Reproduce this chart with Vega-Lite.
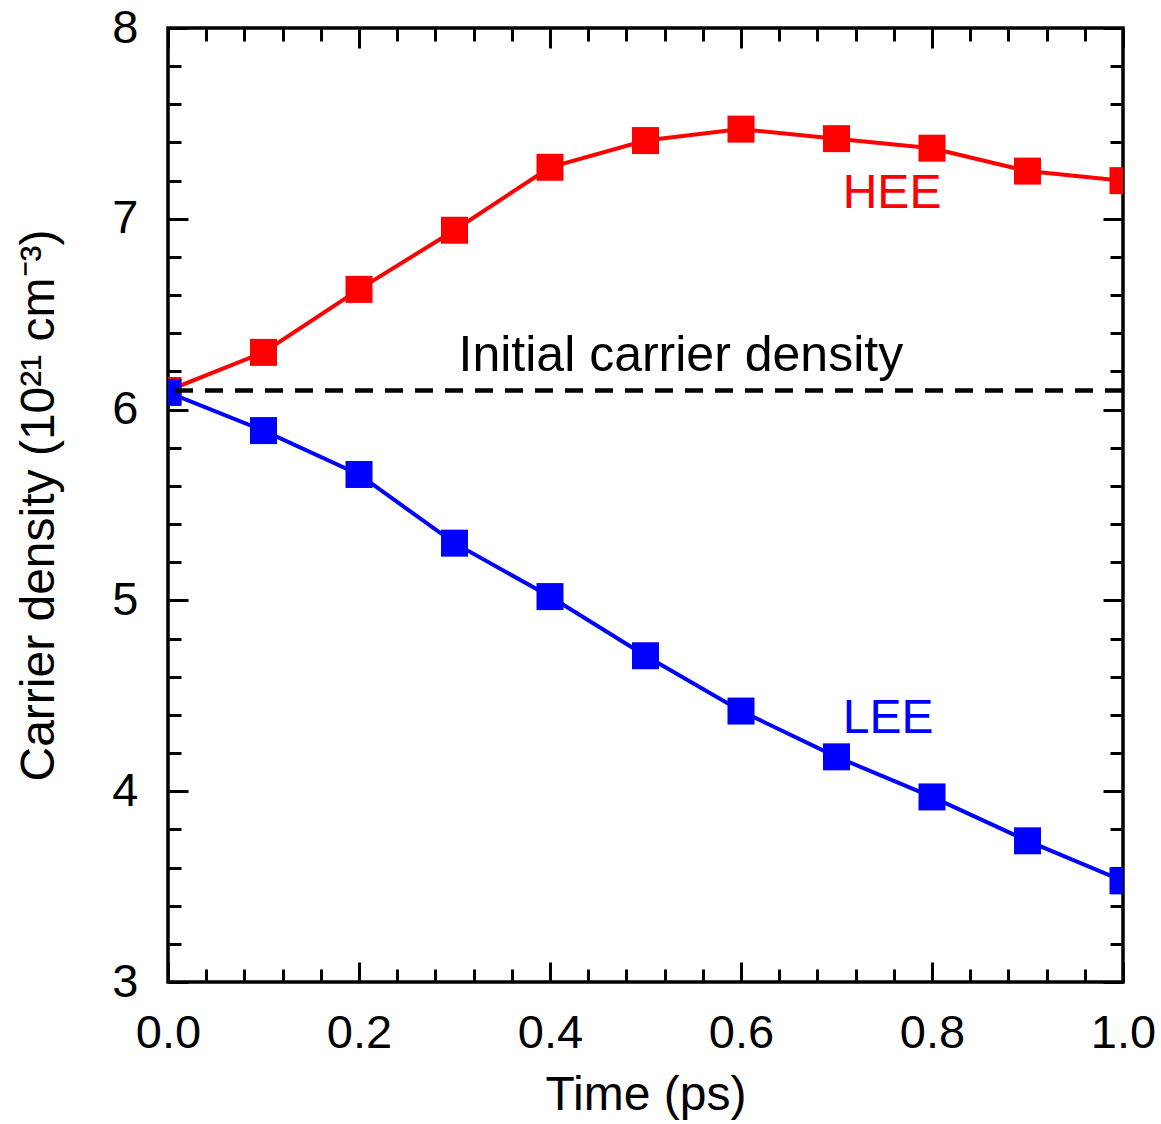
{
  "$schema": "https://vega.github.io/schema/vega-lite/v6.json",
  "width": 955,
  "height": 954,
  "autosize": "none",
  "padding": {"left": 168, "top": 28, "right": 38, "bottom": 142},
  "background": "white",
  "config": {
    "view": {"stroke": "black", "strokeWidth": 3.5},
    "font": "Liberation Sans",
    "axis": {"grid": false, "domain": false, "labelFlush": false, "tickColor": "black", "tickWidth": 3, "labelColor": "black", "titleColor": "black", "labelFont": "Liberation Sans", "titleFont": "Liberation Sans", "labelFontSize": 47, "titleFontSize": 48, "titleFontWeight": "normal"}
  },
  "datasets": {
    "curves": [
      {"t": 0.0, "density": 6.10, "series": "HEE"},
      {"t": 0.1, "density": 6.30, "series": "HEE"},
      {"t": 0.2, "density": 6.63, "series": "HEE"},
      {"t": 0.3, "density": 6.94, "series": "HEE"},
      {"t": 0.4, "density": 7.27, "series": "HEE"},
      {"t": 0.5, "density": 7.41, "series": "HEE"},
      {"t": 0.6, "density": 7.47, "series": "HEE"},
      {"t": 0.7, "density": 7.42, "series": "HEE"},
      {"t": 0.8, "density": 7.37, "series": "HEE"},
      {"t": 0.9, "density": 7.25, "series": "HEE"},
      {"t": 1.0, "density": 7.20, "series": "HEE"},
      {"t": 0.0, "density": 6.09, "series": "LEE"},
      {"t": 0.1, "density": 5.89, "series": "LEE"},
      {"t": 0.2, "density": 5.66, "series": "LEE"},
      {"t": 0.3, "density": 5.30, "series": "LEE"},
      {"t": 0.4, "density": 5.02, "series": "LEE"},
      {"t": 0.5, "density": 4.71, "series": "LEE"},
      {"t": 0.6, "density": 4.42, "series": "LEE"},
      {"t": 0.7, "density": 4.18, "series": "LEE"},
      {"t": 0.8, "density": 3.97, "series": "LEE"},
      {"t": 0.9, "density": 3.74, "series": "LEE"},
      {"t": 1.0, "density": 3.53, "series": "LEE"}
    ],
    "initial": [{"level": 6.1, "t": 0.537, "labely": 6.2, "label": "Initial carrier density"}],
    "labels": [
      {"t": 0.7065, "density": 7.057, "label": "HEE", "series": "HEE"},
      {"t": 0.7065, "density": 4.305, "label": "LEE", "series": "LEE"}
    ]
  },
  "layer": [
    {
      "data": {"name": "curves"},
      "mark": {"type": "line", "strokeWidth": 4, "clip": true},
      "encoding": {
        "x": {"field": "t", "type": "quantitative", "scale": {"domain": [0, 1], "nice": false, "zero": false},
          "axis": {"orient": "bottom", "values": [0, 0.2, 0.4, 0.6, 0.8, 1], "format": ".1f", "tickSize": -20, "labelPadding": 48, "title": "Time (ps)", "titlePadding": 15}},
        "y": {"field": "density", "type": "quantitative", "scale": {"domain": [3, 8], "nice": false, "zero": false},
          "axis": {"orient": "left", "values": [3, 4, 5, 6, 7, 8], "format": "d", "tickSize": -20, "labelPadding": 50, "title": "Carrier density (10²¹ cm⁻³)", "titlePadding": 48}},
        "color": {"field": "series", "type": "nominal", "scale": {"domain": ["HEE", "LEE"], "range": ["#ff0000", "#0000ff"]}, "legend": null}
      }
    },
    {
      "data": {"name": "curves"},
      "mark": {"type": "point", "shape": "square", "filled": true, "opacity": 1, "size": 729, "clip": true},
      "encoding": {
        "x": {"field": "t", "type": "quantitative",
          "axis": {"orient": "bottom", "values": [0.04, 0.08, 0.12, 0.16, 0.24, 0.28, 0.32, 0.36, 0.44, 0.48, 0.52, 0.56, 0.64, 0.68, 0.72, 0.76, 0.84, 0.88, 0.92, 0.96], "labels": false, "tickSize": -13, "title": null}},
        "y": {"field": "density", "type": "quantitative",
          "axis": {"orient": "left", "values": [3.2, 3.4, 3.6, 3.8, 4.2, 4.4, 4.6, 4.8, 5.2, 5.4, 5.6, 5.8, 6.2, 6.4, 6.6, 6.8, 7.2, 7.4, 7.6, 7.8], "labels": false, "tickSize": -13, "title": null}},
        "color": {"field": "series", "type": "nominal", "legend": null}
      }
    },
    {
      "data": {"name": "initial"},
      "mark": {"type": "rule", "strokeDash": [18, 12], "strokeWidth": 4.5, "color": "black"},
      "encoding": {
        "y": {"field": "level", "type": "quantitative", "axis": null}
      }
    },
    {
      "data": {"name": "initial"},
      "mark": {"type": "text", "fontSize": 50, "color": "black", "align": "center", "baseline": "alphabetic", "font": "Liberation Sans"},
      "encoding": {
        "x": {"field": "t", "type": "quantitative",
          "axis": {"orient": "top", "values": [0, 0.2, 0.4, 0.6, 0.8, 1], "labels": false, "tickSize": -20, "title": null}},
        "y": {"field": "labely", "type": "quantitative",
          "axis": {"orient": "right", "values": [3, 4, 5, 6, 7, 8], "labels": false, "tickSize": -20, "title": null}},
        "text": {"field": "label"}
      }
    },
    {
      "data": {"name": "labels"},
      "mark": {"type": "text", "fontSize": 48, "align": "left", "baseline": "alphabetic", "font": "Liberation Sans"},
      "encoding": {
        "x": {"field": "t", "type": "quantitative",
          "axis": {"orient": "top", "values": [0.04, 0.08, 0.12, 0.16, 0.24, 0.28, 0.32, 0.36, 0.44, 0.48, 0.52, 0.56, 0.64, 0.68, 0.72, 0.76, 0.84, 0.88, 0.92, 0.96], "labels": false, "tickSize": -13, "title": null}},
        "y": {"field": "density", "type": "quantitative",
          "axis": {"orient": "right", "values": [3.2, 3.4, 3.6, 3.8, 4.2, 4.4, 4.6, 4.8, 5.2, 5.4, 5.6, 5.8, 6.2, 6.4, 6.6, 6.8, 7.2, 7.4, 7.6, 7.8], "labels": false, "tickSize": -13, "title": null}},
        "text": {"field": "label"},
        "color": {"field": "series", "type": "nominal", "legend": null}
      }
    }
  ],
  "resolve": {"axis": {"x": "independent", "y": "independent"}}
}
